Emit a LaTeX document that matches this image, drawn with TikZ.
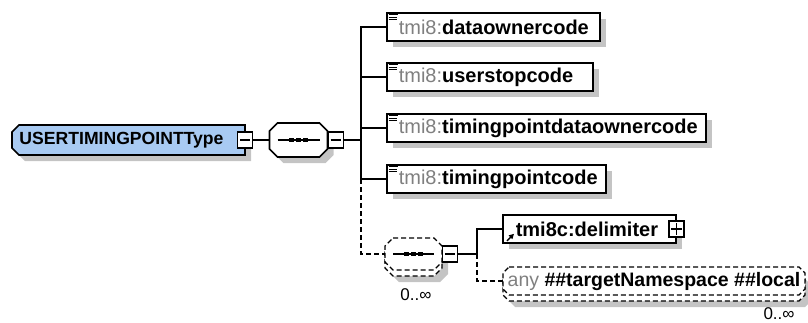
\documentclass[tikz,border=0pt]{standalone}
\usepackage{fontspec}
\setmainfont{Liberation Sans}
\usetikzlibrary{shadows,arrows.meta}
\pgfdeclarelayer{bg}
\pgfsetlayers{bg,main}
\definecolor{rootblue}{RGB}{168,202,242}
\definecolor{pfxgray}{RGB}{128,128,128}
\definecolor{shadowgray}{RGB}{196,196,196}
\newcommand\elfont{\fontsize{20}{23}\selectfont}
\newcommand\anyfont{\fontsize{19.5}{22}\selectfont}
\newcommand\pfx[1]{\textcolor{pfxgray}{#1}}
% octagon (all corners chamfered) round a node: [options]{node}{chamfer}
\newcommand\octdraw[3][]{%
  \path[#1] ([shift={(#3,0)}]#2.north west) -- ([shift={(-#3,0)}]#2.north east)
    -- ([shift={(0,#3)}]#2.north east) -- ([shift={(0,-#3)}]#2.south east)
    -- ([shift={(-#3,0)}]#2.south east) -- ([shift={(#3,0)}]#2.south west)
    -- ([shift={(0,-#3)}]#2.south west) -- ([shift={(0,#3)}]#2.north west) -- cycle;}
% left corners chamfered only
\newcommand\lchdraw[3][]{%
  \path[#1] ([shift={(#3,0)}]#2.north west) -- (#2.north east) -- (#2.south east)
    -- ([shift={(#3,0)}]#2.south west) -- ([shift={(0,-#3)}]#2.south west)
    -- ([shift={(0,#3)}]#2.north west) -- cycle;}
\newcommand\seqdots[1]{%
  \draw[line width=1.2pt] ([shift={(8,0)}]#1.west) -- ([shift={(-8,0)}]#1.east);
  \fill ([shift={(-9.5,-2.2)}]#1.center) rectangle ++(5,4.4);
  \fill ([shift={(-2.5,-2.2)}]#1.center) rectangle ++(5,4.4);
  \fill ([shift={(4.5,-2.2)}]#1.center) rectangle ++(5,4.4);}
\newcommand\minussign[1]{%
  \draw[line width=1.2pt] ([shift={(3,0)}]#1.west) -- ([shift={(-3,0)}]#1.east);}
\newcommand\plussign[1]{%
  \draw[line width=1.2pt] ([shift={(3,0)}]#1.west) -- ([shift={(-3,0)}]#1.east)
    ([shift={(0,3)}]#1.north) -- ([shift={(0,-3)}]#1.south);}
\newcommand\elicon[1]{%
  \draw[line width=0.9pt] ([shift={(2.5,2.5)}]#1.north west) -- ++(9,0)
    ([shift={(2.5,4.8)}]#1.north west) -- ++(8,0)
    ([shift={(2.5,7.1)}]#1.north west) -- ++(8,0);}
\begin{document}
\begin{tikzpicture}[x=1pt,y=-1pt,
  conn/.style={line width=1.2pt},
  dconn/.style={line width=1.2pt,dash pattern=on 5pt off 3pt},
  shadowed/.style={drop shadow={shadow xshift=6pt,shadow yshift=-6pt,fill=shadowgray,opacity=1}},
  shadowfill/.style={fill=shadowgray,transform canvas={xshift=6pt,yshift=-6pt}},
  solidshape/.style={draw,line width=1.6pt,fill=white},
  dashshape/.style={draw,line width=1.2pt,dash pattern=on 5pt off 3pt,fill=white},
  elembox/.style={rectangle,draw,line width=1.6pt,fill=white,anchor=west,minimum height=28pt,inner xsep=0pt,inner ysep=0pt,text width=#1,align=left,font=\elfont,shadowed},
  frame/.style={rectangle,inner sep=0pt,outer sep=0pt},
  togglebox/.style={rectangle,draw,line width=1.3pt,fill=white,minimum width=15pt,minimum height=16pt,inner sep=0pt},
  multlabel/.style={font=\fontsize{17}{19}\selectfont,inner sep=0pt},
]
\useasboundingbox (0,0) rectangle (808,322);
% root type
\node[frame,minimum width=233pt,minimum height=30pt,font=\fontsize{17.6}{20}\selectfont\bfseries] (root) at (128.5,140) {USERTIMINGPOINTType\hspace*{14pt}};
\node[togglebox] (rootm) at (root.east) {};
\minussign{rootm}
% main sequence
\node[frame,minimum width=58pt,minimum height=34pt] (seq) at (298.5,140) {};
\node[togglebox,anchor=west] (seqm) at (seq.east) {};
\minussign{seqm}
\draw[conn] (rootm.east) -- (seq.west);
\coordinate (spine) at (361,140);
\draw[conn] (seqm.east) -- (spine);
% elements
\node[elembox=213pt] (e1) at (386,27) {\hspace*{12pt}\pfx{tmi8:}\textbf{dataownercode}};
\node[elembox=206pt] (e2) at (386,77) {\hspace*{12pt}\pfx{tmi8:}\textbf{userstopcode}};
\node[elembox=319pt] (e3) at (386,128) {\hspace*{12pt}\pfx{tmi8:}\textbf{timingpointdataownercode}};
\node[elembox=219pt] (e4) at (386,179) {\hspace*{12pt}\pfx{tmi8:}\textbf{timingpointcode}};
\elicon{e1}\elicon{e2}\elicon{e3}\elicon{e4}
\draw[conn] (spine) |- (e1.west);
\draw[conn] (spine) |- (e2.west);
\draw[conn] (spine) |- (e3.west);
\draw[conn] (spine) |- (e4.west);
% optional repeated sequence
\node[frame,minimum width=57pt,minimum height=32pt] (seqBback) at (413.5,260) {};
\node[frame,minimum width=57pt,minimum height=32pt] (seqB) at (413.5,254) {};
\node[togglebox,anchor=west] (seqBm) at (seqB.east) {};
\minussign{seqBm}
\node[multlabel] (seqBmult) at (416,295) {0..∞};
\draw[dconn] (e4.west -| spine) |- (seqB.west);
\coordinate (spineB) at (477,254);
\draw[conn] (seqBm.east) -- (spineB);
% delimiter
\node[elembox=173pt] (delim) at (502,229) {\hspace*{13pt}\textbf{tmi8c:delimiter}};
\node[togglebox] (delimp) at (delim.east) {};
\plussign{delimp}
\draw[line width=1.5pt,-{Triangle[length=5pt,width=5pt]}] ([shift={(5,-3)}]delim.south west) -- ++(7,-7);
\draw[conn] (spineB) |- (delim.west);
% any
\node[frame,minimum width=302pt,minimum height=28pt] (anyBback) at (654,287) {};
\node[frame,minimum width=302pt,minimum height=28pt,font=\anyfont] (anyB) at (654,281) {\pfx{any} \textbf{\#\#targetNamespace \#\#local}};
\node[multlabel] (anyBmult) at (779,314) {0..∞};
\draw[dconn] (spineB) |- (anyB.west);
% chamfered outlines and their shadows, behind the texts
\begin{pgfonlayer}{bg}
  \lchdraw[shadowfill]{root}{7}
  \lchdraw[draw,line width=1.6pt,fill=rootblue]{root}{7}
  \octdraw[shadowfill]{seq}{8}
  \octdraw[solidshape]{seq}{8}
  \octdraw[shadowfill]{seqBback}{8}
  \octdraw[dashshape]{seqBback}{8}
  \octdraw[dashshape]{seqB}{8}
  \octdraw[shadowfill]{anyBback}{6}
  \octdraw[dashshape]{anyBback}{6}
  \octdraw[dashshape]{anyB}{6}
\end{pgfonlayer}
\begin{scope}
  \seqdots{seq}
  \seqdots{seqB}
\end{scope}
\end{tikzpicture}
\end{document}
